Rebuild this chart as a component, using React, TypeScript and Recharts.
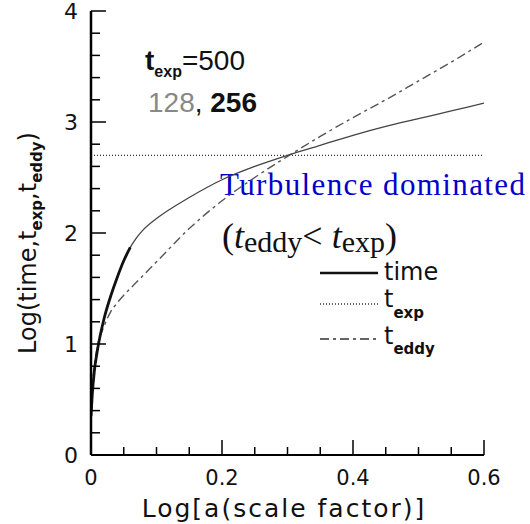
import React from 'react';
import { ComposedChart, Line, XAxis, YAxis, ReferenceLine, Customized } from 'recharts';

const xValues = [0, 0.002, 0.005, 0.01, 0.02, 0.03, 0.04, 0.05, 0.06, 0.07, 0.08, 0.1, 0.15, 0.2, 0.25, 0.3, 0.35, 0.4, 0.45, 0.5, 0.55, 0.6];
const timeValues = [0.35, 0.55, 0.75, 0.95, 1.23, 1.43, 1.6, 1.75, 1.87, 1.96, 2.03, 2.13, 2.32, 2.48, 2.6, 2.7, 2.79, 2.88, 2.96, 3.03, 3.1, 3.17];
const earlyTimeValues = [0.35, 0.55, 0.75, 0.95, 1.23, 1.43, 1.6, 1.75, 1.87];
const eddyValues = [0.35, 0.6, 0.8, 0.98, 1.16, 1.29, 1.37, 1.44, 1.5, 1.56, 1.62, 1.74, 2.04, 2.29, 2.5, 2.69, 2.87, 3.04, 3.2, 3.37, 3.54, 3.72];
const texpValue = 2.7;

const xTicks = [0, 0.05, 0.1, 0.15, 0.2, 0.25, 0.3, 0.35, 0.4, 0.45, 0.5, 0.55, 0.6];
const xTickLabels = ['0', '0.2', '0.4', '0.6'];
const yTicks = [0, 0.2, 0.4, 0.6, 0.8, 1, 1.2, 1.4, 1.6, 1.8, 2, 2.2, 2.4, 2.6, 2.8, 3, 3.2, 3.4, 3.6, 3.8, 4];
const yTickLabels = ['0', '1', '2', '3', '4'];

const data = xValues.map((x, i) => ({
  x,
  time: timeValues[i],
  early: i < earlyTimeValues.length ? earlyTimeValues[i] : undefined,
  eddy: eddyValues[i],
}));

const SANS = 'DejaVu Sans, sans-serif';
const HELV = 'Liberation Sans, Arial, sans-serif';
const SERIF = 'Liberation Serif, DejaVu Serif, serif';

// recharts places a custom tick at (axis + tickSize + tickMargin); we draw the tick mark back inside
const TS = 10;
const TM = 5;
const OFF = TS + TM;

const isMult = (v: number, step: number) => Math.abs(v / step - Math.round(v / step)) < 1e-6;

const BottomTick = (props: any) => {
  const { x, y, payload } = props;
  const v = payload.value;
  const major = isMult(v, 0.2);
  const idx = Math.round(v / 0.2);
  const ay = y - OFF;
  return (
    <g>
      <line x1={x} x2={x} y1={ay} y2={ay - (major ? 15 : 8)} stroke="#000" strokeWidth={1.5} />
      {major && (
        <text x={x} y={ay + 30} textAnchor="middle" fontFamily={SANS} fontSize={21} fill="#111">
          {xTickLabels[idx]}
        </text>
      )}
    </g>
  );
};

const TopTick = (props: any) => {
  const { x, y, payload } = props;
  const major = isMult(payload.value, 0.2);
  const ay = y + OFF;
  return <line x1={x} x2={x} y1={ay} y2={ay + (major ? 15 : 8)} stroke="#000" strokeWidth={1.5} />;
};

const LeftTick = (props: any) => {
  const { x, y, payload } = props;
  const v = payload.value;
  const major = isMult(v, 1);
  const ax = x + OFF;
  return (
    <g>
      <line x1={ax} x2={ax + (major ? 15 : 9)} y1={y} y2={y} stroke="#000" strokeWidth={1.5} />
      {major && (
        <text x={ax - 13} y={y + 8} textAnchor="end" fontFamily={SANS} fontSize={22} fill="#111">
          {yTickLabels[Math.round(v)]}
        </text>
      )}
    </g>
  );
};

const RightTick = (props: any) => {
  const { x, y, payload } = props;
  const major = isMult(payload.value, 1);
  const ax = x - OFF;
  return <line x1={ax} x2={ax - (major ? 15 : 8)} y1={y} y2={y} stroke="#000" strokeWidth={1.5} />;
};

const Annotations = () => (
  <g>
    {/* y axis title */}
    <text transform="translate(36,243) rotate(-90)" textAnchor="middle" fontFamily={SANS} fontSize={24} fill="#111">
      Log(time,t<tspan fontSize={15} dy={6} fontWeight="bold">exp</tspan>
      <tspan dy={-6}>,t</tspan>
      <tspan fontSize={15} dy={6} fontWeight="bold">eddy</tspan>
      <tspan dy={-6}>)</tspan>
    </text>
    {/* x axis title */}
    <text x={284} y={517} textAnchor="middle" fontFamily={SANS} fontSize={25} letterSpacing={2} fill="#111">
      Log[a(scale factor)]
    </text>
    {/* t_exp = 500 */}
    <text x={145} y={70} fontFamily={HELV} fontSize={28} fill="#111">
      <tspan fontWeight="bold">t</tspan>
      <tspan fontSize={16} fontWeight="bold" dy={7}>exp</tspan>
      <tspan dy={-7}>=500</tspan>
    </text>
    <text x={148} y={112} fontFamily={HELV} fontSize={28}>
      <tspan fill="#888">128</tspan>
      <tspan fill="#111">, </tspan>
      <tspan fill="#111" fontWeight="bold">256</tspan>
    </text>
    {/* turbulence annotation */}
    <text x={220} y={195} fontFamily={SERIF} fontSize={31} textLength={305} lengthAdjust="spacing" fill="#0000cc">
      Turbulence dominated
    </text>
    <text x={222} y={248} fontFamily={SERIF} fontSize={36} fill="#111">
      (<tspan fontStyle="italic">t</tspan>
      <tspan fontSize={30} dy={4}>eddy</tspan>
      <tspan dy={-4}>{'< '}</tspan>
      <tspan fontStyle="italic">t</tspan>
      <tspan fontSize={30} dy={4}>exp</tspan>
      <tspan dy={-4}>)</tspan>
    </text>
    {/* legend */}
    <line x1={320} x2={378} y1={273} y2={273} stroke="#111" strokeWidth={2.5} />
    <text x={384} y={280} fontFamily={SANS} fontSize={24} fill="#111">time</text>
    <line x1={320} x2={378} y1={304} y2={304} stroke="#333" strokeWidth={1.3} strokeDasharray="1 2" />
    <text x={384} y={307} fontFamily={SANS} fontSize={24} fill="#111">
      t<tspan fontSize={15} fontWeight="bold" dy={11}>exp</tspan>
    </text>
    <line x1={320} x2={378} y1={339} y2={339} stroke="#333" strokeWidth={1.5} strokeDasharray="9 4 3 4" />
    <text x={384} y={344} fontFamily={SANS} fontSize={24} fill="#111">
      t<tspan fontSize={15} fontWeight="bold" dy={10}>eddy</tspan>
    </text>
  </g>
);

export default function App() {
  return (
    <div style={{ position: 'absolute', left: 0, top: 0 }}>
      <ComposedChart width={530} height={524} data={data} margin={{ top: 11, right: 46, bottom: 0, left: 0 }}>
        <XAxis
          xAxisId="b"
          dataKey="x"
          type="number"
          domain={[0, 0.6]}
          ticks={xTicks}
          interval={0}
          height={69}
          tickSize={TS}
          tickMargin={TM}
          tickLine={false}
          axisLine={{ stroke: '#000', strokeWidth: 2 }}
          tick={<BottomTick />}
          allowDataOverflow
        />
        <XAxis
          xAxisId="t"
          orientation="top"
          dataKey="x"
          type="number"
          domain={[0, 0.6]}
          ticks={xTicks}
          interval={0}
          height={0}
          tickSize={TS}
          tickMargin={TM}
          tickLine={false}
          axisLine={{ stroke: '#000', strokeWidth: 2 }}
          tick={<TopTick />}
          allowDataOverflow
        />
        <YAxis
          yAxisId="l"
          type="number"
          domain={[0, 4]}
          ticks={yTicks}
          interval={0}
          width={91}
          tickSize={TS}
          tickMargin={TM}
          tickLine={false}
          axisLine={{ stroke: '#000', strokeWidth: 2.5 }}
          tick={<LeftTick />}
          allowDataOverflow
        />
        <YAxis
          yAxisId="r"
          orientation="right"
          type="number"
          domain={[0, 4]}
          ticks={yTicks}
          interval={0}
          width={0}
          tickSize={TS}
          tickMargin={TM}
          tickLine={false}
          axisLine={{ stroke: '#000', strokeWidth: 2 }}
          tick={<RightTick />}
          allowDataOverflow
        />
        <ReferenceLine xAxisId="b" yAxisId="l" y={texpValue} stroke="#333" strokeWidth={1.3} strokeDasharray="1 2" />
        <Line xAxisId="b" yAxisId="l" type="monotone" dataKey="eddy" stroke="#555" strokeWidth={1.4} strokeDasharray="9 4 3 4" dot={false} isAnimationActive={false} />
        <Line xAxisId="b" yAxisId="l" type="monotone" dataKey="time" stroke="#444" strokeWidth={1.3} dot={false} isAnimationActive={false} />
        <Line xAxisId="b" yAxisId="l" type="monotone" dataKey="early" stroke="#111" strokeWidth={2.8} dot={false} isAnimationActive={false} />
        <Customized component={Annotations} />
      </ComposedChart>
    </div>
  );
}
